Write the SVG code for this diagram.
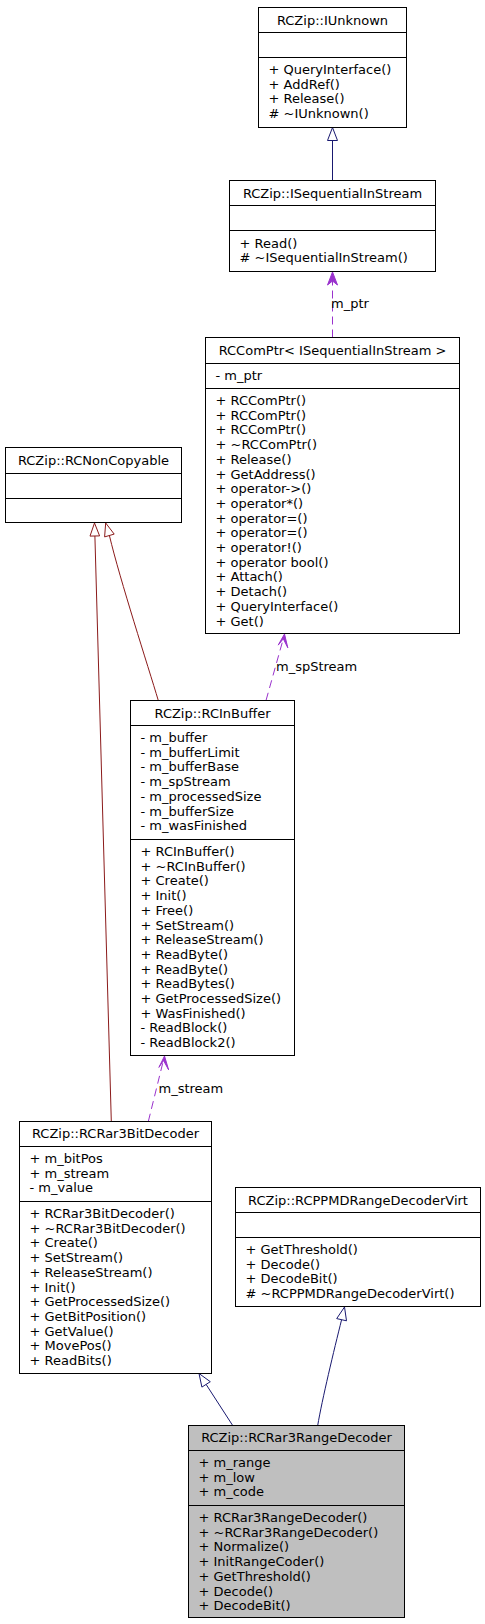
<svg xmlns="http://www.w3.org/2000/svg" width="485" height="1624" viewBox="0 0 485 1624">
<style>
text{font-family:"DejaVu Sans","Liberation Sans",sans-serif;font-size:13px;fill:#000}
.t{text-anchor:middle}
.box{fill:#fff;stroke:#000;stroke-width:1}
.cur{fill:#bfbfbf;stroke:#000;stroke-width:1}
.sep{stroke:#000;stroke-width:1}
.pub{fill:none;stroke:#191970;stroke-width:1}
.pubh{fill:#fff;stroke:#191970;stroke-width:1}
.priv{fill:none;stroke:#8b1a1a;stroke-width:1}
.privh{fill:#fff;stroke:#8b1a1a;stroke-width:1}
.use{fill:none;stroke:#9a32cd;stroke-width:1;stroke-dasharray:8,5}
.useh{fill:#9a32cd;stroke:#9a32cd;stroke-width:1}
</style>
<rect width="485" height="1624" fill="#fff"/>
<g id="connectors">
<path class="pub" d="M332.5,180.5 L332.5,140.5"/>
<polygon class="pubh" points="332.5,127.5 327.5,140.5 337.5,140.5"/>
<path class="use" d="M332.5,337.5 L332.5,281"/>
<polygon class="useh" points="332.5,272 327.5,285 332.5,281 337.5,285"/>
<text x="331" y="308">m_ptr</text>
<path class="use" d="M266,700.5 L283.4,638.4"/>
<polygon class="useh" points="284.5,634 278.2,645.1 283.3,638.8 287.8,647.8"/>
<text x="276" y="670.5">m_spStream</text>
<path class="use" d="M148.3,1121.5 L163.5,1060"/>
<polygon class="useh" points="164.5,1056 158.9,1067.4 163.5,1060.5 168.6,1069.8"/>
<text x="158.5" y="1092.5">m_stream</text>
<path class="priv" d="M111.3,1121.5 L94.9,536"/>
<polygon class="privh" points="94.5,523 90,536.1 99.6,535.9"/>
<path class="priv" d="M158.3,700.5 C148,666 120,580 109.4,535.5"/>
<polygon class="privh" points="105.7,523 104.6,536.9 114.2,534.1"/>
<path class="pub" d="M232.7,1425.5 L206.1,1384.4"/>
<polygon class="pubh" points="199,1373.5 201.9,1387.1 210.3,1381.7"/>
<path class="pub" d="M317.7,1425.5 C322,1400 334,1350 341.6,1319.7"/>
<polygon class="pubh" points="344.5,1307 336.7,1318.6 346.5,1320.8"/>
</g>
<g id="IUnknown">
<rect class="box" x="258.5" y="7.5" width="148" height="120"/>
<path class="sep" d="M258.5,32.5H406.5M258.5,57.5H406.5"/>
<text class="t" x="332.5" y="24.5">RCZip::IUnknown</text>
<text><tspan x="268.5" y="74">+ QueryInterface()</tspan><tspan x="268.5" y="88.7">+ AddRef()</tspan><tspan x="268.5" y="103.4">+ Release()</tspan><tspan x="268.5" y="118.1"># ~IUnknown()</tspan></text>
</g>
<g id="ISequentialInStream">
<rect class="box" x="229.5" y="180.5" width="206" height="91"/>
<path class="sep" d="M229.5,205.5H435.5M229.5,230.5H435.5"/>
<text class="t" x="332.5" y="197.5">RCZip::ISequentialInStream</text>
<text><tspan x="239.5" y="247.5">+ Read()</tspan><tspan x="239.5" y="262.2"># ~ISequentialInStream()</tspan></text>
</g>
<g id="RCComPtr">
<rect class="box" x="205.5" y="337.5" width="254" height="296"/>
<path class="sep" d="M205.5,363.5H459.5M205.5,388.5H459.5"/>
<text class="t" x="332.5" y="355">RCComPtr&lt; ISequentialInStream &gt;</text>
<text x="215.5" y="380">- m_ptr</text>
<text><tspan x="215.5" y="405">+ RCComPtr()</tspan><tspan x="215.5" y="419.7">+ RCComPtr()</tspan><tspan x="215.5" y="434.4">+ RCComPtr()</tspan><tspan x="215.5" y="449.1">+ ~RCComPtr()</tspan><tspan x="215.5" y="463.8">+ Release()</tspan><tspan x="215.5" y="478.5">+ GetAddress()</tspan><tspan x="215.5" y="493.2">+ operator-&gt;()</tspan><tspan x="215.5" y="507.9">+ operator*()</tspan><tspan x="215.5" y="522.6">+ operator=()</tspan><tspan x="215.5" y="537.3">+ operator=()</tspan><tspan x="215.5" y="552">+ operator!()</tspan><tspan x="215.5" y="566.7">+ operator bool()</tspan><tspan x="215.5" y="581.4">+ Attach()</tspan><tspan x="215.5" y="596.1">+ Detach()</tspan><tspan x="215.5" y="610.8">+ QueryInterface()</tspan><tspan x="215.5" y="625.5">+ Get()</tspan></text>
</g>
<g id="RCNonCopyable">
<rect class="box" x="5.5" y="447.5" width="176" height="75"/>
<path class="sep" d="M5.5,473.5H181.5M5.5,498.5H181.5"/>
<text class="t" x="93.5" y="464.5">RCZip::RCNonCopyable</text>
</g>
<g id="RCInBuffer">
<rect class="box" x="130.5" y="700.5" width="164" height="355"/>
<path class="sep" d="M130.5,725.5H294.5M130.5,839.5H294.5"/>
<text class="t" x="212.5" y="717.5">RCZip::RCInBuffer</text>
<text><tspan x="140.5" y="742">- m_buffer</tspan><tspan x="140.5" y="756.7">- m_bufferLimit</tspan><tspan x="140.5" y="771.4">- m_bufferBase</tspan><tspan x="140.5" y="786.1">- m_spStream</tspan><tspan x="140.5" y="800.8">- m_processedSize</tspan><tspan x="140.5" y="815.5">- m_bufferSize</tspan><tspan x="140.5" y="830.2">- m_wasFinished</tspan></text>
<text><tspan x="140.5" y="856">+ RCInBuffer()</tspan><tspan x="140.5" y="870.7">+ ~RCInBuffer()</tspan><tspan x="140.5" y="885.4">+ Create()</tspan><tspan x="140.5" y="900.1">+ Init()</tspan><tspan x="140.5" y="914.8">+ Free()</tspan><tspan x="140.5" y="929.5">+ SetStream()</tspan><tspan x="140.5" y="944.2">+ ReleaseStream()</tspan><tspan x="140.5" y="958.9">+ ReadByte()</tspan><tspan x="140.5" y="973.6">+ ReadByte()</tspan><tspan x="140.5" y="988.3">+ ReadBytes()</tspan><tspan x="140.5" y="1003">+ GetProcessedSize()</tspan><tspan x="140.5" y="1017.7">+ WasFinished()</tspan><tspan x="140.5" y="1032.4">- ReadBlock()</tspan><tspan x="140.5" y="1047.1">- ReadBlock2()</tspan></text>
</g>
<g id="RCRar3BitDecoder">
<rect class="box" x="19.5" y="1121.5" width="192" height="252"/>
<path class="sep" d="M19.5,1146.5H211.5M19.5,1201.5H211.5"/>
<text class="t" x="115.5" y="1138">RCZip::RCRar3BitDecoder</text>
<text><tspan x="29.5" y="1163">+ m_bitPos</tspan><tspan x="29.5" y="1177.7">+ m_stream</tspan><tspan x="29.5" y="1192.4">- m_value</tspan></text>
<text><tspan x="29.5" y="1218">+ RCRar3BitDecoder()</tspan><tspan x="29.5" y="1232.7">+ ~RCRar3BitDecoder()</tspan><tspan x="29.5" y="1247.4">+ Create()</tspan><tspan x="29.5" y="1262.1">+ SetStream()</tspan><tspan x="29.5" y="1276.8">+ ReleaseStream()</tspan><tspan x="29.5" y="1291.5">+ Init()</tspan><tspan x="29.5" y="1306.2">+ GetProcessedSize()</tspan><tspan x="29.5" y="1320.9">+ GetBitPosition()</tspan><tspan x="29.5" y="1335.6">+ GetValue()</tspan><tspan x="29.5" y="1350.3">+ MovePos()</tspan><tspan x="29.5" y="1365">+ ReadBits()</tspan></text>
</g>
<g id="RCPPMDRangeDecoderVirt">
<rect class="box" x="235.5" y="1187.5" width="245" height="119"/>
<path class="sep" d="M235.5,1212.5H480.5M235.5,1237.5H480.5"/>
<text class="t" x="358" y="1204.5">RCZip::RCPPMDRangeDecoderVirt</text>
<text><tspan x="245.5" y="1254">+ GetThreshold()</tspan><tspan x="245.5" y="1268.7">+ Decode()</tspan><tspan x="245.5" y="1283.4">+ DecodeBit()</tspan><tspan x="245.5" y="1298.1"># ~RCPPMDRangeDecoderVirt()</tspan></text>
</g>
<g id="RCRar3RangeDecoder">
<rect class="cur" x="188.5" y="1425.5" width="216" height="192"/>
<path class="sep" d="M188.5,1450.5H404.5M188.5,1505.5H404.5"/>
<text class="t" x="296.5" y="1442">RCZip::RCRar3RangeDecoder</text>
<text><tspan x="198.5" y="1467">+ m_range</tspan><tspan x="198.5" y="1481.7">+ m_low</tspan><tspan x="198.5" y="1496.4">+ m_code</tspan></text>
<text><tspan x="198.5" y="1522">+ RCRar3RangeDecoder()</tspan><tspan x="198.5" y="1536.7">+ ~RCRar3RangeDecoder()</tspan><tspan x="198.5" y="1551.4">+ Normalize()</tspan><tspan x="198.5" y="1566.1">+ InitRangeCoder()</tspan><tspan x="198.5" y="1580.8">+ GetThreshold()</tspan><tspan x="198.5" y="1595.5">+ Decode()</tspan><tspan x="198.5" y="1610.2">+ DecodeBit()</tspan></text>
</g>
</svg>
